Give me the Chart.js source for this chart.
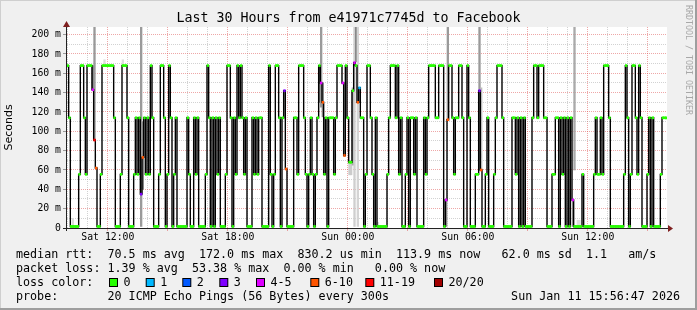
<!DOCTYPE html>
<html>
<head>
<meta charset="utf-8">
<script src="https://cdn.jsdelivr.net/npm/chart.js@4.4.1/dist/chart.umd.min.js"></script>
<style>
  html, body { margin: 0; padding: 0; background: #f0f0f0; }
  #wrap { width: 697px; height: 310px; }
</style>
</head>
<body>
<div id="wrap"><canvas id="chart" width="697" height="310"></canvas></div>
<script>
// Median RTT in ms, one row per hour, 5 minute steps from Sat 10:00
const medianSat = [
  168, 114, 1.6, 1.6, 1.6, 1.6, 1.6, 55.5, 168, 168, 114, 55.5,
  168, 168, 168, 143, 91, 62, 1.6, 1.6, 55.5, 168, 168, 168,
  168, 168, 168, 168, 114, 1.6, 1.6, 1.6, 55.5, 168, 168, 168,
  114, 1.6, 1.6, 1.6, 55.5, 114, 55.5, 114, 35, 73, 114, 55.5,
  114, 55.5, 168, 114, 1.6, 1.6, 1.6, 55.5, 168, 168, 114, 1.6,
  55.5, 168, 114, 1.6, 55.5, 114, 1.6, 1.6, 1.6, 1.6, 1.6, 1.6,
  114, 55.5, 1.6, 1.6, 114, 55.5, 114, 1.6, 1.6, 1.6, 1.6, 55.5,
  168, 114, 1.6, 114, 1.6, 114, 55.5, 114, 1.6, 1.6, 1.6, 55.5,
  168, 168, 114, 1.6, 114, 55.5, 168, 114, 168, 114, 55.5, 114,
  1.6, 1.6, 1.6, 114, 55.5, 114, 55.5, 114, 114, 1.6, 1.6, 1.6,
  1.6, 168, 55.5, 1.6, 55.5, 168, 168, 114, 1.6, 114, 142, 61,
  1.6, 1.6, 1.6, 1.6, 114, 114, 55.5, 168, 168, 168, 114, 55.5,
  1.6, 55.5, 114, 55.5, 1.6, 55.5, 114, 168, 150, 130, 55.5, 114,
  1.6, 114, 114, 114, 55.5, 114, 168, 168, 168, 150, 75, 168
];
const medianSun = [
  114, 68, 68, 142, 171, 168, 130, 145, 114, 114, 1.6, 55.5,
  168, 168, 114, 55.5, 1.6, 114, 1.6, 1.6, 1.6, 1.6, 1.6, 1.6,
  55.5, 114, 168, 168, 168, 114, 168, 55.5, 114, 1.6, 1.6, 55.5,
  114, 1.6, 114, 114, 55.5, 114, 1.6, 1.6, 1.6, 1.6, 114, 55.5,
  114, 168, 168, 168, 168, 114, 114, 168, 168, 168, 1.6, 29,
  112, 168, 168, 114, 55.5, 114, 114, 168, 168, 114, 1.6, 1.6,
  168, 114, 1.6, 1.6, 1.6, 55.5, 55.5, 142, 60, 1.6, 1.6, 55.5,
  114, 1.6, 1.6, 1.6, 55.5, 114, 168, 168, 168, 114, 1.6, 1.6,
  1.6, 1.6, 1.6, 114, 114, 55.5, 114, 1.6, 114, 1.6, 114, 1.6,
  1.6, 1.6, 1.6, 114, 168, 168, 114, 168, 168, 168, 114, 114,
  1.6, 1.6, 1.6, 55.5, 55.5, 114, 114, 1.6, 114, 55.5, 114, 1.6,
  114, 1.6, 114, 29, 1.6, 1.6, 1.6, 1.6, 1.6, 55.5, 1.6, 1.6,
  1.6, 1.6, 1.6, 1.6, 55.5, 114, 55.5, 55.5, 114, 55.5, 168, 168,
  168, 114, 1.6, 1.6, 1.6, 1.6, 1.6, 1.6, 1.6, 1.6, 55.5, 168,
  114, 1.6, 55.5, 168, 168, 114, 55.5, 168, 114, 1.6, 1.6, 1.6,
  55.5, 114, 1.6, 114, 1.6, 1.6, 1.6, 1.6, 55.5, 114, 114, 113.9
];

// Steps where pings were lost, and their loss class
const lossSteps = [15, 16, 17, 44, 45, 130, 131, 152, 153, 165, 166, 172, 174, 175, 227, 228, 247, 248, 303];
const lossClass = ['4-5', '11-19', '6-10', '3', '6-10', '3', '6-10', '4-5', '6-10', '4-5', '6-10', '4-5', '6-10', '1', '4-5', '6-10', '3', '6-10', '4-5'];

// Smoke (spread of the 20 pings) where it is visible
const smokeSteps = [3, 15, 16, 22, 33, 44, 45, 151, 152, 153, 169, 170, 171, 172, 173, 174, 186, 227, 228, 247, 248, 303, 304, 306, 307];
const smokeLow   = [1.6, 143, 91, 168, 168, 1.6, 40, 130, 125, 115, 55, 55, 65, 1.6, 172, 1.6, 1.6, 1.6, 112, 60, 60, 1.6, 60, 1.6, 1.6];
const smokeHigh  = [10, 168, 215, 174, 174, 215, 110, 168, 215, 150, 70, 70, 145, 215, 215, 215, 6, 29, 215, 215, 145, 29, 215, 8, 8];
const smokeShade = ['#dcdcdc', '#777777', '#9a9a9a', '#dddddd', '#dddddd', '#9a9a9a', '#888888', '#777777', '#9a9a9a', '#888888',
                    '#cccccc', '#cccccc', '#aaaaaa', '#cfcfcf', '#888888', '#d4d4d4', '#dddddd', '#888888', '#9a9a9a', '#9a9a9a',
                    '#bbbbbb', '#888888', '#aaaaaa', '#dddddd', '#dddddd'];

const xTickLabels = ['Sat 12:00', 'Sat 18:00', 'Sun 00:00', 'Sun 06:00', 'Sun 12:00'];
const lossLegend = ['0', '1', '2', '3', '4-5', '6-10', '11-19', '20/20'];
const lossColors = ['#26ff00', '#00b8ff', '#0059ff', '#7e00ff', '#dd00ff', '#ff5500', '#ff0000', '#a10000'];

const median = medianSat.concat(medianSun);

// slot labels, Sat 10:00 .. Sun 15:55
const slotLabels = median.map((_, i) => {
  const mins = 10 * 60 + i * 5;
  const day = mins >= 24 * 60 ? 'Sun' : 'Sat';
  const h = Math.floor(mins / 60) % 24;
  const m = mins % 60;
  return `${day} ${String(h).padStart(2, '0')}:${String(m).padStart(2, '0')}`;
});

const barColors = median.map((_, i) => {
  const k = lossSteps.indexOf(i);
  return lossColors[k < 0 ? 0 : lossLegend.indexOf(lossClass[k])];
});
const medianBars = median.map(v => [v - 1.05, v + 1.05]);
const smokeBars = smokeSteps.map((s, k) => ({ x: slotLabels[s], y: [smokeLow[k], smokeHigh[k]] }));

const MONO = "'DejaVu Sans Mono', monospace";
const MGRID = 'rgba(222, 80, 80, 0.5)';
const GRID = 'rgba(143, 143, 143, 0.4)';

const isHour = i => i % 12 === 0;
const isMajorHour = i => isHour(i) && ((10 + i / 12) % 3 === 0);

const rrdFrame = {
  id: 'rrdFrame',
  beforeDraw(chart) {
    const { ctx, chartArea: a, width, height } = chart;
    ctx.save();
    ctx.fillStyle = '#f0f0f0';
    ctx.fillRect(0, 0, width, height);
    ctx.fillStyle = '#cfcfcf';
    ctx.fillRect(0, 0, width, 1);
    ctx.fillRect(0, 0, 1, height);
    ctx.fillStyle = '#9e9e9e';
    ctx.fillRect(0, height - 2, width, 2);
    ctx.fillRect(width - 2, 0, 2, height);
    ctx.fillStyle = '#ffffff';
    ctx.fillRect(a.left, a.top, a.right - a.left, a.bottom - a.top);
    ctx.restore();
  },
  afterDatasetsDraw(chart) {
    const { ctx, chartArea: a } = chart;
    ctx.save();
    // axes
    ctx.fillStyle = '#222';
    ctx.fillRect(a.left - 1, a.top - 1, 1, a.bottom - a.top + 4);
    ctx.fillRect(a.left - 4, a.bottom, a.right - a.left + 6, 1);
    // arrows
    ctx.fillStyle = '#7f1f1f';
    ctx.beginPath();
    ctx.moveTo(a.left - 4, a.top);
    ctx.lineTo(a.left + 3, a.top);
    ctx.lineTo(a.left - 0.5, a.top - 6);
    ctx.fill();
    ctx.beginPath();
    ctx.moveTo(a.right + 1, a.bottom - 3);
    ctx.lineTo(a.right + 1, a.bottom + 4);
    ctx.lineTo(a.right + 6, a.bottom + 0.5);
    ctx.fill();
    ctx.restore();
  },
  afterDraw(chart) {
    const { ctx, width } = chart;
    ctx.save();
    ctx.fillStyle = '#000';
    ctx.textBaseline = 'middle';
    ctx.textAlign = 'center';
    ctx.font = `13.3px ${MONO}`;
    ctx.fillText('Last 30 Hours from e41971c7745d to Facebook', width / 2, 19);

    ctx.font = `11.7px ${MONO}`;
    ctx.textAlign = 'left';
    ctx.fillText('median rtt:  70.5 ms avg  172.0 ms max  830.2 us min  113.9 ms now   62.0 ms sd  1.1   am/s', 16, 254.5);
    ctx.fillText('packet loss: 1.39 % avg  53.38 % max  0.00 % min   0.00 % now', 16, 268.5);
    ctx.fillText('loss color:', 16, 282.5);
    ctx.fillText('probe:', 16, 296.5);
    ctx.fillText('20 ICMP Echo Pings (56 Bytes) every 300s', 107.5, 296.5);
    ctx.textAlign = 'right';
    ctx.fillText('Sun Jan 11 15:56:47 2026', 680, 296.5);

    // loss colour swatches
    const boxX = [109, 145.7, 182.3, 219.3, 256, 310.3, 365.3, 434];
    ctx.textAlign = 'left';
    lossLegend.forEach((lbl, k) => {
      ctx.fillStyle = '#000';
      ctx.fillRect(boxX[k], 278, 9, 9);
      ctx.fillStyle = lossColors[k];
      ctx.fillRect(boxX[k] + 1, 279, 7, 7);
      ctx.fillStyle = '#000';
      ctx.fillText(lbl, boxX[k] + 14.5, 282.5);
    });

    // watermark
    ctx.translate(688, 5);
    ctx.rotate(Math.PI / 2);
    ctx.fillStyle = '#a8a8a8';
    ctx.font = `8.3px ${MONO}`;
    ctx.textAlign = 'left';
    ctx.fillText('RRDTOOL / TOBI OETIKER', 0, 0);
    ctx.restore();
  }
};

Chart.defaults.font.family = MONO;
Chart.defaults.color = '#000';

new Chart(document.getElementById('chart'), {
  type: 'bar',
  data: {
    labels: slotLabels,
    datasets: [
      {
        type: 'bar',
        label: 'median',
        data: medianBars,
        backgroundColor: barColors,
        grouped: false,
        barPercentage: 1,
        categoryPercentage: 1,
        order: 0
      },
      {
        type: 'line',
        label: 'median rtt',
        data: median,
        borderColor: '#000',
        borderWidth: 1.4,
        stepped: 'middle',
        pointRadius: 0,
        fill: false,
        order: 1
      },
      {
        type: 'bar',
        label: 'smoke',
        data: smokeBars,
        backgroundColor: smokeShade,
        grouped: false,
        barPercentage: 1,
        categoryPercentage: 1,
        order: 2
      }
    ]
  },
  options: {
    responsive: false,
    devicePixelRatio: 1,
    animation: false,
    layout: { padding: { left: 0, right: 30, top: 27, bottom: 0 } },
    plugins: {
      legend: { display: false },
      tooltip: { enabled: false },
      title: { display: false }
    },
    scales: {
      x: {
        type: 'category',
        afterFit: s => { s.height = 82; },
        ticks: {
          autoSkip: false,
          maxRotation: 0,
          minRotation: 0,
          padding: 1,
          font: { family: MONO, size: 9.8 },
          callback: (v, i) => xTickLabels.includes(slotLabels[i]) ? slotLabels[i] : ''
        },
        grid: {
          offset: false,
          lineWidth: 1,
          tickLength: 3,
          color: c => isMajorHour(c.index) ? MGRID : (isHour(c.index) ? GRID : 'rgba(0,0,0,0)'),
          tickColor: c => isMajorHour(c.index) ? MGRID : 'rgba(0,0,0,0)'
        },
        border: { display: false, dash: [1, 1] }
      },
      y: {
        min: 0,
        max: 207.9,
        afterFit: s => { s.width = 67; },
        ticks: {
          stepSize: 10,
          includeBounds: false,
          autoSkip: false,
          padding: 2,
          font: { family: MONO, size: 9.8 },
          callback: v => (v % 20 !== 0) ? '' : (v === 0 ? '0' : `${v} m`)
        },
        grid: {
          lineWidth: 1,
          tickLength: 4,
          color: c => (c.tick && c.tick.value % 20 === 0) ? MGRID : GRID,
          tickColor: c => (c.tick && c.tick.value % 20 === 0) ? '#999' : 'rgba(0,0,0,0)'
        },
        border: { display: false, dash: [1, 1] },
        title: {
          display: true,
          text: 'Seconds',
          font: { family: "'DejaVu Sans', sans-serif", size: 11 },
          color: '#000',
          padding: { top: 3, bottom: 0 }
        }
      }
    }
  },
  plugins: [rrdFrame]
});
</script>
</body>
</html>
